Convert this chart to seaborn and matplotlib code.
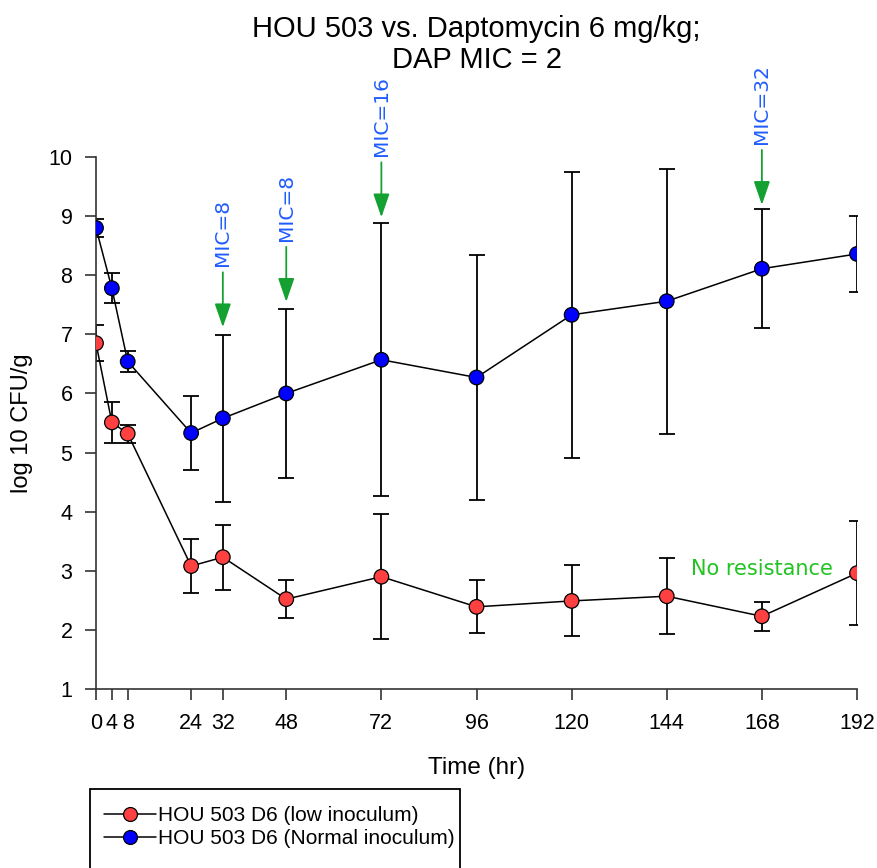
import numpy as np
import pandas as pd
import matplotlib
matplotlib.use("Agg")
import matplotlib.pyplot as plt
from matplotlib.lines import Line2D
from matplotlib.patches import Rectangle
import seaborn as sns

# ---------------- data ----------------
time_hr = [0, 4, 8, 24, 32, 48, 72, 96, 120, 144, 168, 192]
low_mean = [6.85, 5.51, 5.32, 3.08, 3.23, 2.52, 2.90, 2.39, 2.49, 2.57, 2.23, 2.96]
low_err = [0.30, 0.35, 0.15, 0.45, 0.55, 0.32, 1.06, 0.45, 0.60, 0.64, 0.25, 0.88]
norm_mean = [8.80, 7.78, 6.54, 5.33, 5.58, 6.00, 6.57, 6.27, 7.33, 7.56, 8.11, 8.36]
norm_err = [0.15, 0.25, 0.18, 0.63, 1.41, 1.43, 2.31, 2.08, 2.42, 2.24, 1.01, 0.64]
series_names = ["HOU 503 D6 (low inoculum)", "HOU 503 D6 (Normal inoculum)"]
series_colors = ["#ff4040", "#0000ff"]

xtick_vals = [0, 4, 8, 24, 32, 48, 72, 96, 120, 144, 168, 192]
ytick_vals = [1, 2, 3, 4, 5, 6, 7, 8, 9, 10]

mic_times = [32, 48, 72, 168]
mic_labels = ["MIC=8", "MIC=8", "MIC=16", "MIC=32"]
mic_tip = [7.12, 7.55, 8.98, 9.19]

title_text = "HOU 503 vs. Daptomycin 6 mg/kg;\nDAP MIC = 2"
note_text = "No resistance"

# ---------------- style ----------------
sns.set_style("ticks")
plt.rcParams["font.family"] = ["Liberation Sans", "DejaVu Sans"]
plt.rcParams["text.color"] = "black"
plt.rcParams["axes.labelcolor"] = "black"
plt.rcParams["xtick.color"] = "#333333"
plt.rcParams["ytick.color"] = "#333333"
plt.rcParams["xtick.labelcolor"] = "black"
plt.rcParams["ytick.labelcolor"] = "black"

df = pd.DataFrame({
    "time": time_hr * 2,
    "cfu": low_mean + norm_mean,
    "err": low_err + norm_err,
    "group": [series_names[0]] * len(time_hr) + [series_names[1]] * len(time_hr),
})

fig = plt.figure(figsize=(8.77, 8.68), dpi=100)
ax = fig.add_axes([96 / 877, 1 - 689 / 868, (857 - 96) / 877, (689 - 157) / 868])

# error bars
for name in series_names:
    sub = df[df["group"] == name]
    ax.errorbar(sub["time"], sub["cfu"], yerr=sub["err"], fmt="none",
                ecolor="black", elinewidth=1.3, capsize=6, capthick=1.3,
                zorder=2)

# connecting lines
sns.lineplot(data=df, x="time", y="cfu", hue="group",
             palette={n: "black" for n in series_names},
             estimator=None, sort=True, linewidth=1.1, legend=False,
             ax=ax, zorder=3)

# markers
sns.scatterplot(data=df, x="time", y="cfu", hue="group",
                palette=dict(zip(series_names, series_colors)),
                s=110, edgecolor="black", linewidth=0.9, legend=False,
                ax=ax, zorder=4)

ax.set_xlim(0, 192)
ax.set_ylim(1, 10)
ax.set_xticks(xtick_vals)
ax.set_xticklabels([str(v) for v in xtick_vals])
ax.set_yticks(ytick_vals)
ax.set_yticklabels([str(v) for v in ytick_vals])
ax.tick_params(axis="both", labelsize=15.5, length=8, width=1.2, pad=9)
for side in ["top", "right"]:
    ax.spines[side].set_visible(False)
for side in ["left", "bottom"]:
    ax.spines[side].set_linewidth(1.2)
    ax.spines[side].set_color("#333333")

ax.set_xlabel("Time (hr)", fontsize=17.5, labelpad=17)
ax.set_ylabel("log 10 CFU/g", fontsize=17, labelpad=11)
ax.set_title(title_text, fontsize=21, pad=64, linespacing=1.15)

# resistance annotations
arrow_len = 0.93
for t, lab, tip in zip(mic_times, mic_labels, mic_tip):
    ax.annotate("", xy=(t, tip), xytext=(t, tip + arrow_len),
                arrowprops=dict(arrowstyle="-|>,head_length=1.45,head_width=0.5",
                                mutation_scale=10, color="#15a032", lw=1.3,
                                shrinkA=0, shrinkB=0),
                annotation_clip=False, zorder=5)
    ax.text(t, tip + arrow_len + 0.1, lab, rotation=90, ha="center", va="bottom",
            color="#1f5cff", fontsize=14.5, family="DejaVu Sans", clip_on=False)

ax.text(168, 3.03, note_text, ha="center", va="center", color="#22c322",
        fontsize=15, family="DejaVu Sans")

# legend
handles = [Line2D([], [], color="black", lw=1.1, marker="o", markersize=10,
                  markerfacecolor=c, markeredgecolor="black", markeredgewidth=0.9)
           for c in series_colors]
fig.legend(handles, series_names, loc="upper left",
           bbox_to_anchor=(104 / 877, 1 - 806 / 868), frameon=False,
           fontsize=15, handlelength=2.5, handletextpad=0.1, labelspacing=0.2,
           borderpad=0, borderaxespad=0)
fig.patches.append(Rectangle((90 / 877, -0.05), (460 - 90) / 877, (1 - 789 / 868) + 0.05,
                             transform=fig.transFigure, fill=False,
                             edgecolor="black", lw=1.3, figure=fig))

fig.savefig("out.png", dpi=100)
